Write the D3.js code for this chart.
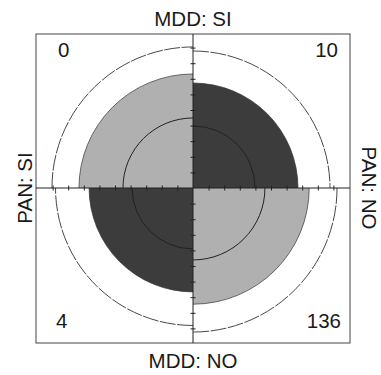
<!DOCTYPE html>
<html><head><meta charset="utf-8">
<script src="https://cdn.jsdelivr.net/npm/d3@7"></script>
<style>body{margin:0;background:#fff}svg{display:block}text{font-family:"Liberation Sans",Arial,sans-serif;fill:#1a1a1a}</style>
</head><body>
<script>
// Data
const quadrants = ["MDD: SI / PAN: SI", "MDD: SI / PAN: NO", "MDD: NO / PAN: SI", "MDD: NO / PAN: NO"];
const counts = [0, 10, 4, 136];
// standardized cell values (area proportion of full circle scale)
const stdFreq = [0.578, 0.49, 0.48, 0.60];
// confidence rings (standardized)
const ringLower = [0.218, 0.171, 0.165, 0.230];
const ringUpper = [0.884, 0.834, 0.840, 0.922];
// quadrant angles (start, end) in radians (0 = up, clockwise)
const angles = [[-Math.PI/2, 0], [0, Math.PI/2], [Math.PI, 3*Math.PI/2], [Math.PI/2, Math.PI]];
const fills = ["light", "dark", "dark", "light"];
const tickValues = [1,2,3,4,5,6,7,8,9];
const topLabel = "MDD: SI", bottomLabel = "MDD: NO", leftLabel = "PAN: SI", rightLabel = "PAN: NO";

const W = 381, H = 375;
const svg = d3.select("body").append("svg").attr("width", W).attr("height", H);
const box = {x0: 36, x1: 350, y0: 34, y1: 343};
const cx = 193, cy = 188;
const rScale = d3.scaleSqrt().domain([0, 1]).range([0, 150]);
const colors = {light: "#b0b0b0", dark: "#3c3c3c"};

const g = svg.append("g").attr("transform", `translate(${cx},${cy})`);
const arc = d3.arc();
const ringPath = (r, a) => { const p = d3.path(); p.arc(0, 0, r, a[0] - Math.PI/2, a[1] - Math.PI/2); return p.toString(); };

// filled sectors
g.selectAll("path.sector").data(d3.range(4)).join("path")
  .attr("class", "sector")
  .attr("d", i => arc({innerRadius: 0, outerRadius: rScale(stdFreq[i]), startAngle: angles[i][0], endAngle: angles[i][1]}))
  .attr("fill", i => colors[fills[i]]);
g.selectAll("path.edge").data(d3.range(4)).join("path")
  .attr("class", "edge")
  .attr("d", i => ringPath(rScale(stdFreq[i]), angles[i]))
  .attr("fill", "none").attr("stroke", "#333").attr("stroke-width", 0.7);

// rings
g.selectAll("path.upper").data(d3.range(4)).join("path")
  .attr("class", "upper")
  .attr("d", i => ringPath(rScale(ringUpper[i]), angles[i]))
  .attr("fill", "none").attr("stroke", "#333").attr("stroke-width", 0.9).attr("stroke-dasharray", "16,1.5");
g.selectAll("path.lower").data(d3.range(4)).join("path")
  .attr("class", "lower")
  .attr("d", i => ringPath(rScale(ringLower[i]), angles[i]))
  .attr("fill", "none").attr("stroke", "#222").attr("stroke-width", 1);

// box
svg.append("rect").attr("x", box.x0).attr("y", box.y0).attr("width", box.x1 - box.x0).attr("height", box.y1 - box.y0)
  .attr("fill", "none").attr("stroke", "#444").attr("stroke-width", 1);

// axes lines
svg.append("line").attr("x1", box.x0).attr("x2", box.x1).attr("y1", cy).attr("y2", cy).attr("stroke", "#222").attr("stroke-width", 1);
svg.append("line").attr("x1", cx).attr("x2", cx).attr("y1", box.y0).attr("y2", box.y1).attr("stroke", "#222").attr("stroke-width", 1);

// ticks via d3 axes
const tScaleR = d3.scaleLinear().domain([0, 10]).range([cx, cx + 156]);
const tScaleL = d3.scaleLinear().domain([0, 10]).range([cx, cx - 156]);
const tScaleD = d3.scaleLinear().domain([0, 10]).range([cy, cy + 156]);
const tScaleU = d3.scaleLinear().domain([0, 10]).range([cy, cy - 156]);
function styleAxis(sel){ sel.select(".domain").remove(); sel.selectAll("text").remove(); sel.selectAll("line").attr("stroke", "#222"); }
[tScaleR, tScaleL].forEach(s => {
  svg.append("g").attr("transform", `translate(0,${cy - 2.5})`)
    .call(d3.axisBottom(s).tickValues(tickValues).tickSize(5)).call(styleAxis);
});
[tScaleD, tScaleU].forEach(s => {
  svg.append("g").attr("transform", `translate(${cx - 2.5},0)`)
    .call(d3.axisRight(s).tickValues(tickValues).tickSize(5)).call(styleAxis);
});

// labels
const fs = 20.5;
svg.append("text").attr("x", cx).attr("y", 26).attr("text-anchor", "middle").attr("font-size", fs).text(topLabel);
svg.append("text").attr("x", cx).attr("y", 368).attr("text-anchor", "middle").attr("font-size", fs).text(bottomLabel);
svg.append("text").attr("transform", `translate(32,${cy}) rotate(-90)`).attr("text-anchor", "middle").attr("font-size", fs).text(leftLabel);
svg.append("text").attr("transform", `translate(362,${cy}) rotate(90)`).attr("text-anchor", "middle").attr("font-size", fs).text(rightLabel);

// counts
const countPos = [{x: 58, y: 57, a: "start"}, {x: 338, y: 57, a: "end"}, {x: 56, y: 328, a: "start"}, {x: 341, y: 328, a: "end"}];
svg.selectAll("text.count").data(d3.range(4)).join("text")
  .attr("class", "count").attr("x", i => countPos[i].x).attr("y", i => countPos[i].y)
  .attr("text-anchor", i => countPos[i].a).attr("font-size", fs).text(i => counts[i]);
</script>
</body></html>
